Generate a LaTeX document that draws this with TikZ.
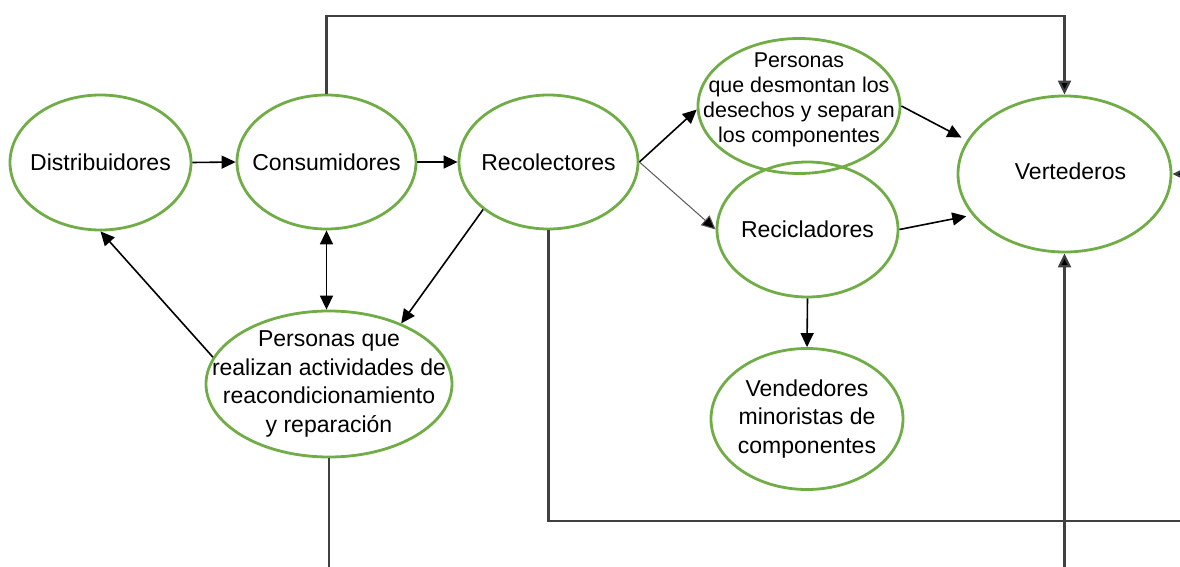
\documentclass[tikz,border=0pt]{standalone}
\usepackage{fontspec}
\setmainfont{Liberation Sans}
\usetikzlibrary{shapes.geometric,arrows.meta}
\definecolor{ellgreen}{HTML}{70AD47}
\definecolor{framegray}{HTML}{404040}
\tikzset{
  ell/.style={ellipse, draw=ellgreen, line width=1.4pt, inner sep=0pt},
  ltxt/.style={align=center, inner sep=0pt, font=\fontsize{11.5}{14.2}\selectfont},
  stxt/.style={align=center, inner sep=0pt, font=\fontsize{10.7}{12.5}\selectfont},
  tip/.tip={Triangle[length=7pt,width=6.5pt,fill=black]},
  conn/.style={line width=0.8pt, -tip},
  thinconn/.style={line width=0.5pt, draw=black!65, -tip},
  frameline/.style={line width=1.1pt, draw=framegray},
  framearrow/.style={frameline, -tip}
}
\begin{document}
\begin{tikzpicture}[x=0.5pt,y=-0.5pt]
\useasboundingbox (0,0) rectangle (1180,567);
% nodes
\node[ell, minimum width=90.5pt, minimum height=67.5pt,
  label={[ltxt]center:Distribuidores}] (dist) at (100.5,162.5) {};
\node[ell, minimum width=89.5pt, minimum height=67pt,
  label={[ltxt]center:Consumidores}] (cons) at (326.5,162) {};
\node[ell, minimum width=89.5pt, minimum height=67pt,
  label={[ltxt]center:Recolectores}] (recol) at (548.5,162) {};
\node[ell, minimum width=101pt, minimum height=67.5pt,
  label={[stxt, yshift=3pt]center:{Personas\\que desmontan los\\desechos y separan\\los componentes}}] (desm) at (799,106) {};
\node[ell, minimum width=90.5pt, minimum height=67.5pt,
  label={[ltxt]center:Recicladores}] (recic) at (807.5,229.5) {};
\node[ell, minimum width=106.5pt, minimum height=78pt,
  label={[ltxt, xshift=3pt, yshift=1.5pt]center:Vertederos}] (vert) at (1064.5,174) {};
\node[ell, minimum width=123pt, minimum height=73pt,
  label={[ltxt]center:{Personas que\\realizan actividades de\\reacondicionamiento\\y reparación}}] (repar) at (329,384) {};
\node[ell, minimum width=96pt, minimum height=70.5pt,
  label={[ltxt]center:{Vendedores\\minoristas de\\componentes}}] (vend) at (807,419) {};
% free ends
\coordinate (topy) at (0,16);
\coordinate (boty) at (0,567);
\coordinate (rightx) at (1180,0);
\coordinate (rbot) at (1180,521);
% connectors
\draw[conn] (dist.east) -- (cons.west);
\draw[conn] (cons.east) -- (recol.west);
\draw[conn, tip-tip] (cons.south) -- (cons.south |- repar.north);
\draw[conn] (recol.216.7) -- (repar.40);
\draw[conn] (repar.167) -- (dist.270);
\draw[conn] (recol.east) -- (desm.182);
\draw[thinconn] (recol.east) -- (recic.west);
\draw[conn, shorten >=3pt] (desm.east) -- (vert.161.7);
\draw[conn, shorten >=3pt] (recic.east) -- (vert.204.4);
\draw[conn] (recic.south) -- (vend.north);
% frame lines
\draw[framearrow] (cons.north) |- (vert.north |- topy) -- (vert.north);
\draw[frameline] (recol.south) |- (rbot);
\draw[frameline] (repar.south) -- (repar.south |- boty);
\draw[framearrow] (vert.south |- boty) -- (vert.south);
\draw[framearrow] (vert.east -| rightx) -- (vert.east);
\end{tikzpicture}
\end{document}
